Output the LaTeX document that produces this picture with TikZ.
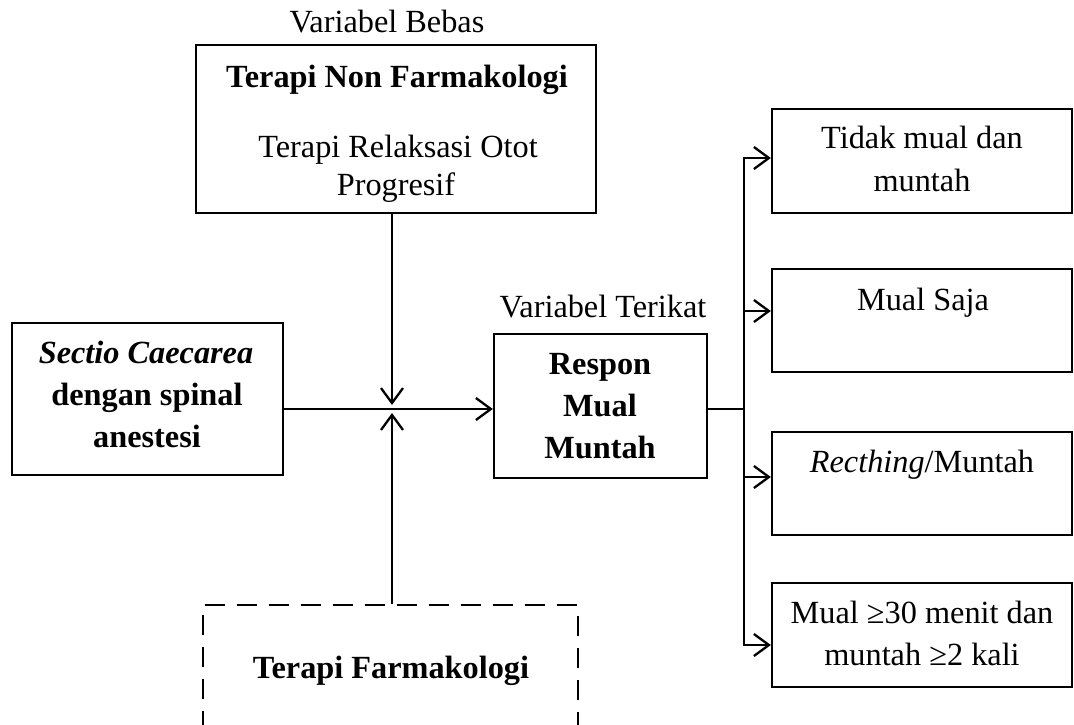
\documentclass[tikz,border=0pt]{standalone}
\usepackage{fontspec}
\setmainfont{Liberation Serif}
\usetikzlibrary{arrows.meta,calc}
\begin{document}
\begin{tikzpicture}[x=1pt,y=-1pt,
  box/.style={draw,line width=2.3pt,rectangle,inner sep=0pt,minimum width=#1},
  dbox/.style={draw,line width=2.3pt,rectangle,inner sep=0pt,dash pattern=on 20pt off 12pt},
  txt/.style={anchor=base,inner sep=0pt,font=\fontsize{32.3}{42}\selectfont},
  conn/.style={line width=2.3pt},
  arr/.style={line width=2.3pt,-{Straight Barb[length=15pt,width=22pt]}}]
\useasboundingbox (0,0) rectangle (1074,724);
\clip (0,0) rectangle (1074,724);
% boxes
\node[box=400pt,minimum height=168pt] (top) at (396,129) {};
\node[box=271pt,minimum height=152pt] (left) at (147.5,399) {};
\node[box=213pt,minimum height=144pt] (resp) at (600.5,406) {};
\node[box=300pt,minimum height=104pt] (r1) at (922,161) {};
\node[box=300pt,minimum height=103pt] (r2) at (922,320.5) {};
\node[box=300pt,minimum height=103pt] (r3) at (922,483.5) {};
\node[box=300pt,minimum height=104pt] (r4) at (922,635) {};
\node[dbox,minimum width=375pt,minimum height=200pt] (farm) at (390.5,705) {};
% texts
\node[txt] (vb) at (387,32) {Variabel Bebas};
\node[txt] (t1) at (397,87) {\bfseries Terapi Non Farmakologi};
\node[txt] (t2) at (398,157) {Terapi Relaksasi Otot};
\node[txt] (t3) at (396,195) {Progresif};
\node[txt] (l1) at (146,363) {\bfseries\itshape Sectio Caecarea};
\node[txt] (l2) at (147,405) {\bfseries dengan spinal};
\node[txt] (l3) at (147,447) {\bfseries anestesi};
\node[txt] (vt) at (603,317) {Variabel Terikat};
\node[txt] (m1) at (600,374) {\bfseries Respon};
\node[txt] (m2) at (600,416) {\bfseries Mual};
\node[txt] (m3) at (600,458) {\bfseries Muntah};
\node[txt] (a1) at (922,148) {Tidak mual dan};
\node[txt] (a2) at (922,191) {muntah};
\node[txt] (b1) at (923,310) {Mual Saja};
\node[txt] (c1) at (922,472) {\itshape Recthing\upshape/Muntah};
\node[txt] (d1) at (922,623) {Mual ≥30 menit dan};
\node[txt] (d2) at (922,665) {muntah ≥2 kali};
\node[txt] (f1) at (391,678) {\bfseries Terapi Farmakologi};
% connectors
\coordinate (J) at (392,409);
\coordinate (Jt) at (392,405);
\coordinate (Jb) at (392,413);
\coordinate (B) at (744,409);
\draw[arr] (J -| left.east) -- (J -| resp.west);
\draw[arr] (top.south -| J) -- (Jt);
\draw[arr] (farm.north -| J) -- (Jb);
\draw[conn] (resp.east |- J) -- (B);
\draw[arr] (B) |- ([yshift=3pt]r1.west);
\draw[arr] (B) |- ([yshift=9.5pt]r2.west);
\draw[arr] (B) |- ([yshift=6.5pt]r3.west);
\draw[arr] (B) |- ([yshift=-10pt]r4.west);
\end{tikzpicture}
\end{document}
